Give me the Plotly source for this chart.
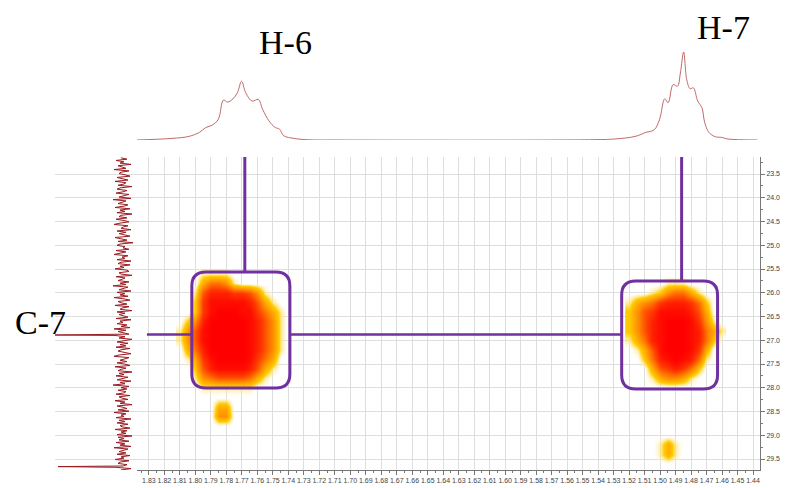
import numpy as np
import plotly.graph_objects as go

# ---------------- data ----------------
# 1H projection (top trace): chemical shift (ppm) and intensity (a.u.)
h_ppm = [1.8382, 1.8151, 1.8042, 1.7974, 1.7933, 1.7892, 1.7852, 1.7819, 1.7792, 1.7757,
         1.7729, 1.7702, 1.7675, 1.7634, 1.7594, 1.7566, 1.7525, 1.7485, 1.7457, 1.7430,
         1.7363, 1.7281, 1.7063, 1.5432, 1.5296, 1.5160, 1.5092, 1.5038, 1.5003, 1.4970,
         1.4948, 1.4916, 1.4888, 1.4869, 1.4848, 1.4828, 1.4806, 1.4785, 1.4757, 1.4730,
         1.4712, 1.4685, 1.4644, 1.4603, 1.4562, 1.4372]
h_int = [0.0, 1.6, 3.6, 7.6, 12.5, 14.8, 20.8, 39.9, 37.9, 41.2,
         47.2, 58.7, 47.2, 38.9, 40.6, 30.7, 19.1, 12.5, 10.9, 4.3,
         1.6, 0.3, 0.0, 0.3, 1.0, 3.6, 7.6, 10.2, 20.8, 41.2,
         37.3, 55.4, 53.8, 67.0, 88.0, 60.4, 51.2, 52.2, 38.9, 32.3,
         17.5, 7.6, 3.3, 2.6, 1.0, 0.0]

c_noise = [2, -4, 7, -1, 3, -8, 5, 0, -3, 9, -6, 2, 4, -2, -7, 6, 1, -5, 8, -3,
           -1, 5, -9, 3, 6, -4, 0, 7, -6, -2, 4, -8, 10, -3, 1, 5, -5, -1, 8, -7,
           3, -2, 6, -9, 2, 4, -4, 7, -1, -6, 3, 9, -5, 0, 2, -8, 6, -3, 4, -1,
           -7, 8, 1, -4, 5, -10, 3, 6, -2, 0, -6, 7, -3, 4, 9, -5, 1, -2, 6, -8,
           2, 5, -7, 3, -1, 8, -4, -6, 4, 2, -9, 7, -2, 1, 5, -6, 3, -3, 10, -5,
           0, 4, -8, 6, -2, 3, -5, 9, -1, -7, 5, 2, -4, 8, -6, 1, 3, -9, 6, -2,
           4, -1, -5, 7, -8, 3, 0, 6, -4, 2, -7, 9, -3, 5, -1, -6, 8, -2, 4, -9,
           1, 6, -5, 3, -3, 7, -7, 2, 5, -1, -8, 4, 9, -6, 0, 3, -4, 6, -2, -7,
           8, -3, 2, 5, -9, 4, -1, 7, -5, 1, 6, -8, 3, -2, 10, -6, 2, -4, 5, -3,
           -1, 7, -7, 4, 1, -5, 8, -2, 3, -9, 6, 0, -4, 5, -6, 9, -3, 2, -1, 7,
           -8, 4, -2, 6, -5, 3, 1, -7, 8, -4, 2, -3, 6, -9, 5, -1, 4, -6, 7, -2,
           3, -8, 9, -5, 1, 4, -3, 6, -7, 2, -1, 8, -6, 3, 5, -4, 0, 7, -8, 2]
c_noise_range = [23.16, 29.73]
c_spike_ppm = [26.89, 29.66]
c_spike_int = [71, 65]

# HSQC cross peaks (intensity grids)
blob1_x = [1.810, 1.805, 1.800, 1.795, 1.790, 1.785, 1.780, 1.775, 1.770, 1.765,
           1.760, 1.755, 1.750, 1.745, 1.740]
blob1_y = [25.6, 25.8, 26.0, 26.2, 26.4, 26.6, 26.8, 27.0, 27.2, 27.4,
           27.6, 27.8, 28.0, 28.2, 28.4, 28.6, 28.8]
blob1_z = [
    [0, 0, 0, 1, 1, 1, 1, 0, 0, 0, 0, 0, 0, 0, 0],
    [0, 0, 0, 3, 5, 5, 4, 1, 0, 0, 0, 0, 0, 0, 0],
    [0, 0, 1, 6, 8, 8, 8, 7, 7, 6, 4, 1, 0, 0, 0],
    [0, 0, 2, 7, 9, 9, 9, 9, 9, 8, 6, 3, 1, 0, 0],
    [0, 0, 2, 7, 9, 10, 10, 10, 9, 9, 7, 5, 3, 1, 0],
    [0, 2, 4, 8, 10, 10, 10, 10, 10, 9, 8, 6, 4, 1, 0],
    [1, 4, 6, 9, 10, 10, 10, 10, 10, 9, 8, 6, 4, 1, 0],
    [1, 4, 6, 9, 10, 10, 10, 10, 10, 9, 8, 6, 4, 1, 0],
    [0, 3, 5, 8, 10, 10, 10, 10, 10, 9, 8, 6, 4, 1, 0],
    [0, 1, 3, 7, 9, 10, 10, 10, 10, 9, 7, 5, 3, 0, 0],
    [0, 0, 2, 6, 8, 9, 9, 9, 9, 8, 6, 3, 1, 0, 0],
    [0, 0, 1, 4, 5, 6, 6, 6, 6, 5, 3, 1, 0, 0, 0],
    [0, 0, 0, 1, 1, 1, 1, 1, 1, 1, 0, 0, 0, 0, 0],
    [0, 0, 0, 0, 0, 0, 0, 0, 0, 0, 0, 0, 0, 0, 0],
    [0, 0, 0, 0, 0, 3, 3, 0, 0, 0, 0, 0, 0, 0, 0],
    [0, 0, 0, 0, 0, 4, 4, 0, 0, 0, 0, 0, 0, 0, 0],
    [0, 0, 0, 0, 0, 0, 0, 0, 0, 0, 0, 0, 0, 0, 0],
]
blob2_x = [1.520, 1.515, 1.510, 1.505, 1.500, 1.495, 1.490, 1.485, 1.480, 1.475,
           1.470, 1.465, 1.460]
blob2_y = [25.8, 26.0, 26.2, 26.4, 26.6, 26.8, 27.0, 27.2, 27.4, 27.6,
           27.8, 28.0, 28.2, 28.4, 28.6, 28.8, 29.0, 29.2, 29.4, 29.6]
blob2_z = [
    [0, 0, 0, 0, 0, 1, 1, 1, 0, 0, 0, 0, 0],
    [0, 0, 0, 1, 2, 4, 5, 5, 3, 1, 0, 0, 0],
    [1, 3, 4, 5, 7, 8, 8, 8, 7, 5, 2, 0, 0],
    [2, 4, 6, 7, 9, 9, 9, 9, 8, 6, 3, 0, 0],
    [2, 4, 6, 8, 9, 10, 10, 10, 9, 7, 4, 1, 0],
    [2, 4, 6, 8, 9, 10, 10, 10, 9, 8, 5, 3, 1],
    [1, 3, 5, 8, 9, 10, 10, 10, 9, 8, 5, 2, 0],
    [0, 1, 3, 6, 9, 10, 10, 10, 9, 7, 3, 0, 0],
    [0, 0, 2, 5, 8, 9, 10, 9, 8, 5, 1, 0, 0],
    [0, 0, 0, 3, 6, 7, 8, 7, 5, 2, 0, 0, 0],
    [0, 0, 0, 1, 3, 4, 4, 3, 1, 0, 0, 0, 0],
    [0, 0, 0, 0, 0, 0, 0, 0, 0, 0, 0, 0, 0],
    [0, 0, 0, 0, 0, 0, 0, 0, 0, 0, 0, 0, 0],
    [0, 0, 0, 0, 0, 0, 0, 0, 0, 0, 0, 0, 0],
    [0, 0, 0, 0, 0, 0, 0, 0, 0, 0, 0, 0, 0],
    [0, 0, 0, 0, 0, 0, 0, 0, 0, 0, 0, 0, 0],
    [0, 0, 0, 0, 0, 0, 0, 0, 0, 0, 0, 0, 0],
    [0, 0, 0, 0, 1, 3, 1, 0, 0, 0, 0, 0, 0],
    [0, 0, 0, 0, 1, 3, 1, 0, 0, 0, 0, 0, 0],
    [0, 0, 0, 0, 0, 0, 0, 0, 0, 0, 0, 0, 0],
]

# correlation markers (assignment boxes) and labels
h_assign_ppm = [1.7681, 1.4861]
c_assign_ppm = 26.88
box_x = [[1.8023, 1.7390], [1.5248, 1.4629]]
box_y = [[25.563, 28.005], [25.753, 28.026]]
line_left_ppm = 1.8313
labels = ["H-6", "H-7", "C-7"]

# ---------------- layout geometry ----------------
W, H = 791, 488
x_dom_px = [137, 760]
y_dom_px = [157, 470]
x_range = [1.8377, 1.4355]
y_range = [29.7316, 23.1421]

def px2pap_x(p):
    return p / W

def px2pap_y(p):
    return 1 - p / H

sx = (x_dom_px[1] - x_dom_px[0]) / abs(x_range[0] - x_range[1])
sy = (y_dom_px[1] - y_dom_px[0]) / abs(y_range[0] - y_range[1])

PURPLE = "#7030A0"

fig = go.Figure()

cscale = [
    [0.0, "rgba(255,255,255,0)"],
    [0.06, "rgba(255,235,160,0.45)"],
    [0.18, "rgba(255,205,0,1)"],
    [0.42, "rgb(255,140,0)"],
    [0.68, "rgb(255,60,0)"],
    [0.88, "rgb(255,15,0)"],
    [1.0, "rgb(255,0,0)"],
]
for bx, by, bz in [(blob1_x, blob1_y, blob1_z), (blob2_x, blob2_y, blob2_z)]:
    fig.add_trace(go.Heatmap(x=bx, y=by, z=bz, zmin=0, zmax=10, colorscale=cscale,
                             zsmooth="best", showscale=False, hoverinfo="skip",
                             xaxis="x", yaxis="y"))

# top 1H trace
fig.add_trace(go.Scatter(x=h_ppm, y=h_int, mode="lines", line=dict(color="#c06a6a", width=1),
                         xaxis="x2", yaxis="y2", hoverinfo="skip", line_shape="spline"))

# left 13C trace
noise_ppm = list(np.linspace(c_noise_range[0], c_noise_range[1], len(c_noise)))
pts = list(zip(noise_ppm, c_noise)) + list(zip(c_spike_ppm, c_spike_int))
pts.sort(key=lambda t: t[0])
fig.add_trace(go.Scatter(x=[p[1] for p in pts], y=[p[0] for p in pts], mode="lines",
                         line=dict(color="#9a1c22", width=1), xaxis="x3", yaxis="y",
                         hoverinfo="skip"))

shapes = []
for hx, by in zip(h_assign_ppm, box_y):
    shapes.append(dict(type="line", xref="x", yref="y", x0=hx, x1=hx, y0=y_range[1], y1=by[0],
                       line=dict(color=PURPLE, width=3)))
shapes.append(dict(type="line", xref="x", yref="y", x0=line_left_ppm, x1=box_x[0][0],
                   y0=c_assign_ppm, y1=c_assign_ppm, line=dict(color=PURPLE, width=2.5)))
shapes.append(dict(type="line", xref="x", yref="y", x0=box_x[0][1], x1=box_x[1][0],
                   y0=c_assign_ppm, y1=c_assign_ppm, line=dict(color=PURPLE, width=2.5)))
r = 14
rx, ry = r / sx, r / sy
for (xl, xr), (yt, yb) in zip(box_x, box_y):
    Li, Ri, Ti, Bi = xl - rx, xr + rx, yt + ry, yb - ry
    path = (f"M {Li},{yt} L {Ri},{yt} Q {xr},{yt} {xr},{Ti} L {xr},{Bi} "
            f"Q {xr},{yb} {Ri},{yb} L {Li},{yb} Q {xl},{yb} {xl},{Bi} "
            f"L {xl},{Ti} Q {xl},{yt} {Li},{yt} Z")
    shapes.append(dict(type="path", xref="x", yref="y", path=path,
                       line=dict(color=PURPLE, width=3)))

serif = "Liberation Serif, Times New Roman, serif"
lab_font = dict(family=serif, size=34, color="black")
ann = [
    dict(text=labels[0], x=px2pap_x(285), y=px2pap_y(42), xref="paper", yref="paper",
         showarrow=False, font=lab_font, xanchor="center", yanchor="middle"),
    dict(text=labels[1], x=px2pap_x(723), y=px2pap_y(28), xref="paper", yref="paper",
         showarrow=False, font=lab_font, xanchor="center", yanchor="middle"),
    dict(text=labels[2], x=px2pap_x(40), y=px2pap_y(322), xref="paper", yref="paper",
         showarrow=False, font=lab_font, xanchor="center", yanchor="middle"),
]

tickfont = dict(family="Liberation Sans, Arial, sans-serif", size=7, color="#444")
fig.update_layout(
    width=W, height=H, margin=dict(l=0, r=0, t=0, b=0),
    paper_bgcolor="white", plot_bgcolor="white", showlegend=False,
    shapes=shapes, annotations=ann,
    xaxis=dict(domain=[px2pap_x(x_dom_px[0]), px2pap_x(x_dom_px[1])], range=x_range,
               anchor="y", tick0=1.83, dtick=0.01, tickformat=".2f", tickangle=0,
               showgrid=True, gridcolor="#dedede", gridwidth=1, zeroline=False,
               showline=True, linecolor="#777", linewidth=1,
               ticks="outside", ticklen=4, tickcolor="#777", tickfont=tickfont,
               minor=dict(dtick=0.005, ticks="outside", ticklen=2, tickcolor="#777", showgrid=False)),
    yaxis=dict(domain=[px2pap_y(y_dom_px[1]), px2pap_y(y_dom_px[0])], range=y_range,
               anchor="x", side="right", tick0=23.5, dtick=0.5, tickformat=".1f",
               showgrid=True, gridcolor="#dedede", gridwidth=1, zeroline=False,
               showline=True, linecolor="#777", linewidth=1,
               ticks="outside", ticklen=4, tickcolor="#777", tickfont=tickfont,
               minor=dict(dtick=0.25, ticks="outside", ticklen=2, tickcolor="#777", showgrid=False)),
    xaxis2=dict(domain=[px2pap_x(x_dom_px[0]), px2pap_x(x_dom_px[1])], range=x_range,
                anchor="y2", visible=False),
    yaxis2=dict(domain=[px2pap_y(140), px2pap_y(40)], range=[0, 100], anchor="x2", visible=False),
    xaxis3=dict(domain=[px2pap_x(55), px2pap_x(137)], range=[68, -14], anchor="y", visible=False),
)

fig.write_html("out.html", config={"displayModeBar": False},
               post_script="document.body.style.margin='0px';document.body.style.overflow='hidden';")
